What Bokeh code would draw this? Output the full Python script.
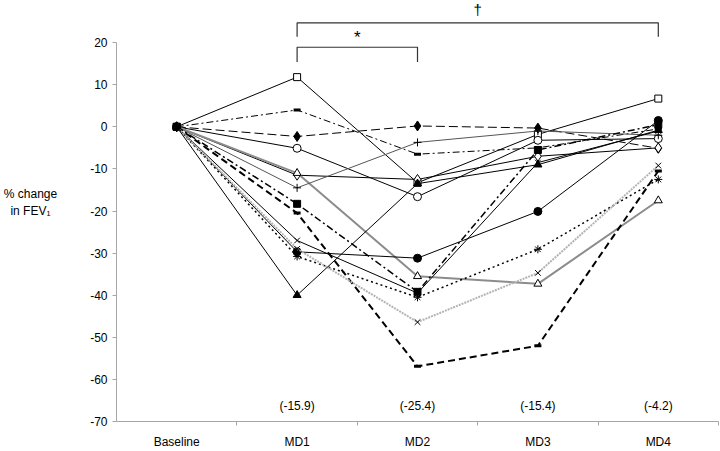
from bokeh.plotting import figure
from bokeh.models import Range1d, FixedTicker, Label
from bokeh.core.properties import value
from bokeh.embed import file_html
from bokeh.resources import INLINE

categories = ["Baseline", "MD1", "MD2", "MD3", "MD4"]
y_ticks = [-70, -60, -50, -40, -30, -20, -10, 0, 10, 20]
y_tick_labels = ["-70", "-60", "-50", "-40", "-30", "-20", "-10", "0", "10", "20"]
mean_labels = ["(-15.9)", "(-25.4)", "(-15.4)", "(-4.2)"]

s_open_square = [0, 11.8, -13.3, -1.8, 6.7]
s_dashdot_bar = [0, 4.0, -6.5, -5.0, -0.5]
s_filled_diamond = [0, -2.3, 0.2, -0.3, -5.1]
s_open_circle = [0, -5.1, -16.6, -3.2, -2.8]
s_open_diamond = [0, -11.5, -12.5, -7.0, -5.0]
s_open_triangle = [0, -11.0, -35.5, -37.3, -17.5]
s_plus = [0, -14.5, -3.7, -1.0, -2.0]
s_filled_square = [0, -18.3, -39.2, -5.5, 0.5]
s_dash_bar = [0, -20.5, -56.9, -52.0, -10.5]
s_x_black = [0, -27.0, -39.5, -8.5, -1.0]
s_filled_circle = [0, -29.7, -31.2, -20.1, 1.5]
s_asterisk = [0, -30.8, -40.5, -29.1, -12.5]
s_x_gray = [0, -29.0, -46.4, -34.7, -9.2]
s_filled_triangle = [0, -40.0, -13.5, -9.0, -0.8]

# significance brackets
br_from = [1, 1]
br_to = [2, 4]
br_low = [15.4, 21.4]
br_high = [18.9, 24.7]
br_sym = ["*", "\u2020"]
br_sym_y = [21.1, 27.9]
br_sym_size = ["17px", "15px"]

FONT = "Liberation Sans"
xs = list(range(len(categories)))

p = figure(width=720, height=451, output_backend="svg", toolbar_location=None,
           x_range=Range1d(-0.5, 4.5), y_range=Range1d(-70, 30),
           min_border_left=113, min_border_right=2, min_border_top=0,
           min_border_bottom=23)
p.outline_line_color = None
p.xgrid.visible = False
p.ygrid.visible = False
p.background_fill_color = "white"
p.border_fill_color = "white"

AX = "#a6a6a6"
# y axis
p.yaxis.ticker = FixedTicker(ticks=y_ticks)
p.yaxis.major_label_overrides = {t: l for t, l in zip(y_ticks, y_tick_labels)}
p.yaxis.bounds = (-70, 20)
p.yaxis.axis_line_color = AX
p.yaxis.major_tick_line_color = AX
p.yaxis.major_tick_out = 4
p.yaxis.major_tick_in = 0
p.yaxis.minor_tick_line_color = None
p.yaxis.major_label_standoff = 5
p.yaxis.major_label_text_font = FONT
p.yaxis.major_label_text_font_size = "12px"
p.yaxis.major_label_text_color = "black"
p.yaxis.axis_label = "% change\nin FEV\u2081\u00a0\u00a0\n\u00a0"
p.yaxis.axis_label_orientation = "horizontal"
p.yaxis.axis_label_text_align = "center"
p.yaxis.axis_label_text_font = FONT
p.yaxis.axis_label_text_font_style = "normal"
p.yaxis.axis_label_text_font_size = "12px"
p.yaxis.axis_label_text_color = "black"
p.yaxis.axis_label_standoff = 30

# x axis
p.xaxis.ticker = FixedTicker(ticks=xs, minor_ticks=[0.5, 1.5, 2.5, 3.5, 4.5])
p.xaxis.major_label_overrides = {i: c for i, c in enumerate(categories)}
p.xaxis.axis_line_color = AX
p.xaxis.major_tick_line_color = None
p.xaxis.major_tick_out = 0
p.xaxis.major_tick_in = 0
p.xaxis.minor_tick_line_color = AX
p.xaxis.minor_tick_out = 4
p.xaxis.minor_tick_in = 0
p.xaxis.major_label_standoff = 9
p.xaxis.major_label_text_font = FONT
p.xaxis.major_label_text_font_size = "12px"
p.xaxis.major_label_text_color = "black"


def series(y, marker, fill, line_color="black", width=1.0, dash="solid",
           size=7, mline="black", mwidth=1.0):
    p.line(xs, y, line_color=line_color, line_width=width, line_dash=dash)
    p.scatter(xs, y, marker=marker, size=size, fill_color=fill,
              line_color=mline, line_width=mwidth)


series(s_open_square, "square", "white", size=7)
series(s_dashdot_bar, "dash", "black", dash="7 3 2 3", size=7, mwidth=3)
series(s_filled_diamond, "diamond", "black", dash="9 4", size=10)
series(s_open_circle, "circle", "white", size=8)
series(s_open_diamond, "diamond", "white", size=10)
series(s_open_triangle, "triangle", "white", line_color="#8c8c8c", width=2, size=8)
series(s_plus, "cross", "black", line_color="#555555", width=1, size=8)
series(s_filled_square, "square", "black", dash="7 3 2 3", width=1.5, size=7)
series(s_dash_bar, "dash", "black", dash="7 4", width=2, size=7, mwidth=3)
series(s_x_black, "x", "black", size=8)
series(s_filled_circle, "circle", "black", size=8)
series(s_asterisk, "asterisk", "black", dash="2 3", width=1.5, size=8)
series(s_x_gray, "x", "black", line_color="#b4b4b4", width=2, dash="2 1", size=8)
series(s_filled_triangle, "triangle", "black", size=8)

# means
p.text(xs[1:], [-66.3] * len(mean_labels), text=mean_labels,
       text_font=value(FONT), text_font_size="12px", text_align="center",
       text_baseline="middle", text_color="black")

# brackets
bx = [[a, a, b, b] for a, b in zip(br_from, br_to)]
by = [[lo, hi, hi, lo] for lo, hi in zip(br_low, br_high)]
p.multi_line(bx, by, line_color="#333333", line_width=1.2)
for a, b, s, sy, fs in zip(br_from, br_to, br_sym, br_sym_y, br_sym_size):
    p.add_layout(Label(x=(a + b) / 2, y=sy, text=s, text_font=FONT,
                       text_font_size=fs, text_align="center",
                       text_baseline="middle", text_color="black"))

open("out.html", "w").write(file_html(p, INLINE))
